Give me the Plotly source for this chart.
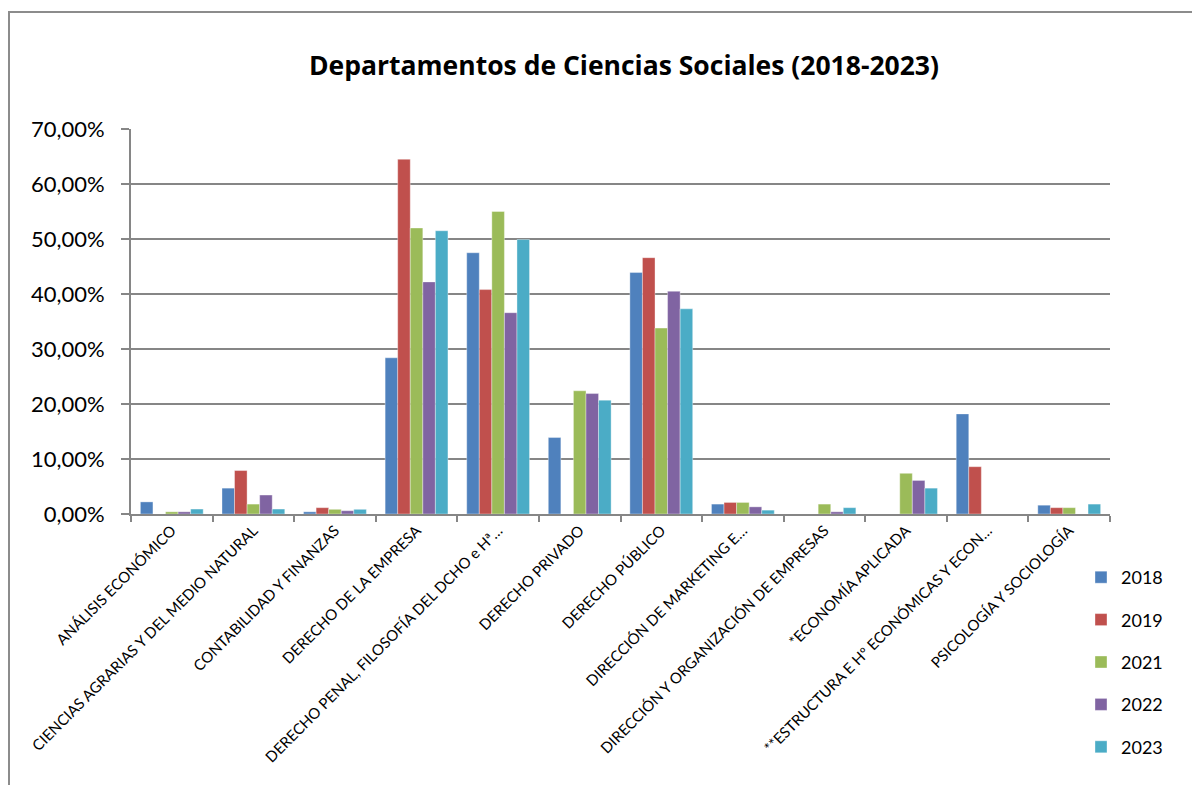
import plotly.graph_objects as go

departamentos = [
    "ANÁLISIS ECONÓMICO",
    "CIENCIAS AGRARIAS Y DEL MEDIO NATURAL",
    "CONTABILIDAD Y FINANZAS",
    "DERECHO DE LA EMPRESA",
    "DERECHO PENAL, FILOSOFÍA DEL DCHO e Hª…",
    "DERECHO PRIVADO",
    "DERECHO PÚBLICO",
    "DIRECCIÓN DE MARKETING E…",
    "DIRECCIÓN Y ORGANIZACIÓN DE EMPRESAS",
    "*ECONOMÍA APLICADA",
    "**ESTRUCTURA E Hº ECONÓMICAS Y ECON…",
    "PSICOLOGÍA Y SOCIOLOGÍA",
]

anios = ["2018", "2019", "2021", "2022", "2023"]

v2018 = [0.022, 0.047, 0.004, 0.284, 0.475, 0.139, 0.439, 0.018, 0.0, 0.0, 0.182, 0.016]
v2019 = [0.0, 0.079, 0.0115, 0.645, 0.408, 0.0, 0.466, 0.021, 0.0, 0.0, 0.086, 0.0115]
v2021 = [0.004, 0.018, 0.0085, 0.520, 0.550, 0.224, 0.338, 0.021, 0.018, 0.074, 0.0, 0.0115]
v2022 = [0.004, 0.0345, 0.006, 0.422, 0.366, 0.219, 0.405, 0.013, 0.004, 0.061, 0.0, 0.0]
v2023 = [0.009, 0.009, 0.0085, 0.515, 0.499, 0.207, 0.373, 0.007, 0.0115, 0.047, 0.0, 0.018]

series = [v2018, v2019, v2021, v2022, v2023]
palette = ["#4F81BD", "#C0504D", "#9BBB59", "#8064A2", "#4BACC6"]

grid_color = "#868686"
font_family = "Lato, 'Open Sans', sans-serif"

fig = go.Figure()
for anio, valores, color in zip(anios, series, palette):
    fig.add_trace(
        go.Bar(
            name=anio,
            x=departamentos,
            y=valores,
            marker=dict(color=color, line=dict(color="rgba(255,255,255,0.6)", width=0.6)),
            legendgroup=anio,
        )
    )

# page body adds an 8px offset, so the figure is 8px smaller than the window
off = 8
W, H = 1200 - off, 785 - off
l, r, t, b = 131 - off, 90, 129 - off, 271
pw, ph = W - l - r, H - t - b


def px_x(X):
    # window pixel -> paper x
    return (X - 131) / pw


def px_y(Y):
    # window pixel -> paper y
    return (514 - Y) / ph


# outer chart frame (left/top edges visible, rest cut off)
fig.add_shape(
    type="rect",
    xref="paper",
    yref="paper",
    x0=px_x(9),
    x1=px_x(1230),
    y0=px_y(830),
    y1=px_y(12),
    line=dict(color="#8C8C8C", width=2),
    layer="below",
)

fig.update_layout(
    width=W,
    height=H,
    margin=dict(l=l, r=r, t=t, b=b),
    paper_bgcolor="white",
    plot_bgcolor="white",
    separators=",.",
    barmode="group",
    bargap=0.23,
    bargroupgap=0,
    font=dict(family=font_family, color="#000000"),
    title=dict(
        text="<b>Departamentos de Ciencias Sociales (2018-2023)</b>",
        x=px_x(624),
        xref="paper",
        xanchor="center",
        y=1 - (66 - off) / H,
        yref="container",
        yanchor="middle",
        font=dict(size=26.5, family="'Open Sans', sans-serif", color="#000000"),
    ),
    xaxis=dict(
        tickangle=-45,
        tickfont=dict(size=15),
        showline=True,
        linecolor=grid_color,
        linewidth=2,
        ticks="outside",
        tickson="boundaries",
        ticklen=6,
        tickcolor=grid_color,
        tickwidth=2,
        showgrid=False,
    ),
    yaxis=dict(
        range=[0, 0.70],
        dtick=0.10,
        tickformat=".2%",
        tickfont=dict(size=22),
        ticklabelstandoff=12,
        showgrid=True,
        gridcolor=grid_color,
        gridwidth=2,
        showline=True,
        linecolor=grid_color,
        linewidth=2,
        ticks="outside",
        ticklen=8,
        tickcolor=grid_color,
        tickwidth=2,
        zeroline=False,
    ),
    legend=dict(
        x=px_x(1081),
        xanchor="left",
        y=px_y(559),
        yanchor="top",
        font=dict(size=18),
        tracegroupgap=16,
        itemwidth=30,
        bgcolor="rgba(0,0,0,0)",
    ),
)

fig.write_html("out.html")
